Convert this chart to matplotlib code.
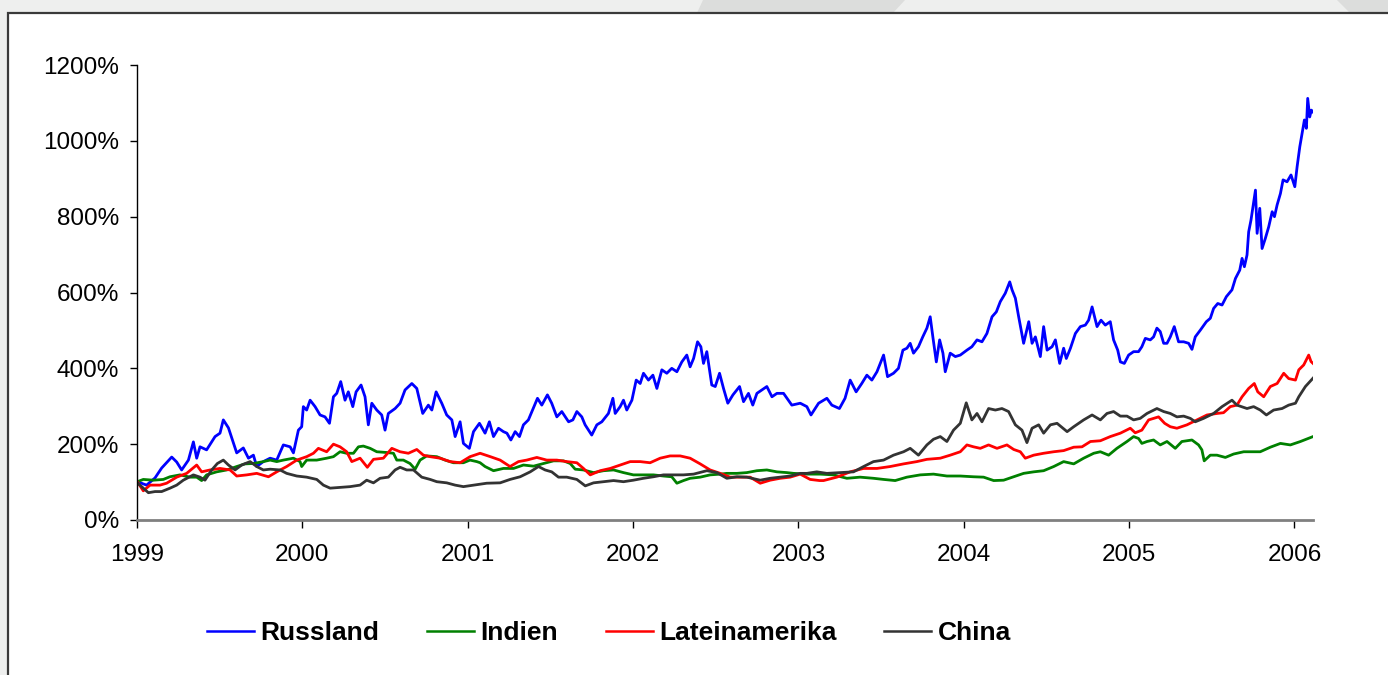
import numpy as np
import matplotlib.pyplot as plt
from matplotlib.patches import Rectangle, Polygon
from matplotlib.lines import Line2D

plt.rcParams['font.family'] = ['Liberation Sans', 'DejaVu Sans']

# years after 1999 / value in percent
rus_t = [0.002, 0.058, 0.109, 0.149, 0.210, 0.240, 0.270, 0.311, 0.341, 0.361, 0.381, 0.421, 0.472, 0.502, 0.522,
         0.553, 0.583, 0.603, 0.643, 0.674, 0.704, 0.724, 0.764, 0.805, 0.845, 0.885, 0.926, 0.946, 0.976, 0.996,
         1.006, 1.026, 1.047, 1.077, 1.107, 1.137, 1.164, 1.188, 1.208, 1.232, 1.258, 1.278, 1.305, 1.325, 1.355,
         1.379, 1.399, 1.420, 1.450, 1.480, 1.500, 1.520, 1.561, 1.591, 1.621, 1.662, 1.692, 1.728, 1.762, 1.783,
         1.809, 1.843, 1.873, 1.904, 1.924, 1.954, 1.974, 2.010, 2.035, 2.071, 2.105, 2.131, 2.156, 2.186, 2.216,
         2.237, 2.261, 2.287, 2.313, 2.337, 2.367, 2.388, 2.422, 2.448, 2.482, 2.508, 2.539, 2.569, 2.610, 2.636,
         2.660, 2.690, 2.710, 2.750, 2.781, 2.811, 2.851, 2.878, 2.892, 2.922, 2.942, 2.962, 2.993, 3.019, 3.043,
         3.063, 3.093, 3.120, 3.144, 3.174, 3.204, 3.234, 3.265, 3.295, 3.325, 3.345, 3.366, 3.390, 3.410, 3.426,
         3.446, 3.476, 3.497, 3.523, 3.547, 3.573, 3.604, 3.644, 3.668, 3.698, 3.724, 3.749, 3.779, 3.809, 3.840,
         3.870, 3.910, 3.960, 4.011, 4.051, 4.076, 4.122, 4.172, 4.202, 4.248, 4.282, 4.313, 4.349, 4.383, 4.414,
         4.444, 4.475, 4.495, 4.515, 4.539, 4.575, 4.605, 4.632, 4.656, 4.676, 4.696, 4.726, 4.752, 4.777, 4.797,
         4.813, 4.834, 4.854, 4.874, 4.888, 4.918, 4.949, 4.979, 5.019, 5.049, 5.080, 5.110, 5.140, 5.171, 5.197,
         5.221, 5.251, 5.278, 5.292, 5.312, 5.332, 5.362, 5.393, 5.413, 5.433, 5.463, 5.483, 5.504, 5.534, 5.554,
         5.580, 5.604, 5.620, 5.645, 5.675, 5.705, 5.735, 5.755, 5.776, 5.806, 5.830, 5.856, 5.886, 5.906, 5.931,
         5.947, 5.971, 5.997, 6.027, 6.057, 6.077, 6.098, 6.128, 6.148, 6.168, 6.188, 6.209, 6.229, 6.249, 6.273,
         6.299, 6.330, 6.360, 6.380, 6.400, 6.431, 6.467, 6.491, 6.511, 6.536, 6.562, 6.588, 6.622, 6.643, 6.669,
         6.683, 6.697, 6.713, 6.723, 6.737, 6.749, 6.764, 6.774, 6.790, 6.804, 6.824, 6.844, 6.865, 6.879, 6.895,
         6.915, 6.931, 6.955, 6.979, 7.002, 7.016, 7.032, 7.046, 7.060, 7.072, 7.080, 7.092, 7.102, 7.112]
russland = [101, 92, 111, 137, 166, 153, 132, 158, 206, 163, 193, 185, 220, 229, 264,
            243, 203, 177, 190, 163, 171, 141, 154, 163, 158, 198, 193, 177, 237, 246,
            299, 290, 316, 299, 277, 272, 255, 325, 334, 365, 316, 338, 299, 338, 356,
            325, 251, 308, 290, 277, 237, 281, 294, 308, 343, 360, 347, 281, 303, 290,
            338, 308, 277, 264, 220, 259, 202, 189, 233, 255, 229, 259, 220, 242, 233,
            229, 211, 233, 220, 251, 264, 286, 321, 303, 330, 308, 272, 286, 259, 264,
            286, 272, 251, 224, 251, 259, 281, 321, 281, 299, 316, 290, 316, 369, 360,
            387, 369, 382, 347, 396, 387, 400, 391, 417, 435, 404, 426, 470, 457, 413,
            444, 356, 352, 387, 347, 308, 330, 352, 312, 334, 303, 334, 343, 352, 325,
            334, 334, 303, 308, 299, 277, 308, 321, 303, 294, 321, 369, 338, 360, 382,
            369, 391, 413, 435, 378, 387, 400, 448, 453, 466, 440, 457, 483, 506, 536,
            483, 417, 475, 440, 391, 440, 431, 435, 448, 457, 475, 470, 492, 536, 549,
            576, 598, 628, 607, 585, 536, 466, 523, 466, 483, 431, 510, 448, 457, 475,
            413, 453, 426, 453, 492, 510, 514, 527, 562, 510, 527, 514, 523, 475, 448,
            417, 413, 435, 444, 444, 457, 479, 475, 483, 506, 497, 466, 466, 483, 510,
            470, 470, 466, 450, 483, 501, 523, 532, 558, 571, 567, 589, 607, 637, 659,
            690, 668, 699, 760, 791, 826, 870, 756, 822, 716, 743, 773, 813, 800, 831,
            861, 897, 892, 910, 879, 932, 984, 1020, 1055, 1033, 1112, 1063, 1081, 1076]

ind_t = [0.002, 0.038, 0.099, 0.159, 0.199, 0.260, 0.321, 0.361, 0.391, 0.421, 0.482, 0.543, 0.603, 0.653, 0.704,
         0.764, 0.805, 0.845, 0.885, 0.946, 0.986, 0.996, 1.026, 1.087, 1.147, 1.188, 1.228, 1.268, 1.309, 1.339,
         1.369, 1.410, 1.450, 1.510, 1.551, 1.571, 1.611, 1.651, 1.682, 1.712, 1.752, 1.813, 1.863, 1.914, 1.974,
         2.014, 2.055, 2.075, 2.105, 2.156, 2.216, 2.277, 2.337, 2.398, 2.458, 2.519, 2.579, 2.620, 2.650, 2.700,
         2.761, 2.821, 2.882, 2.942, 3.002, 3.063, 3.123, 3.184, 3.234, 3.265, 3.305, 3.345, 3.406, 3.466, 3.527,
         3.567, 3.628, 3.688, 3.749, 3.809, 3.870, 3.930, 3.971, 4.051, 4.132, 4.212, 4.293, 4.373, 4.454, 4.515,
         4.585, 4.656, 4.737, 4.817, 4.898, 4.979, 5.059, 5.120, 5.181, 5.241, 5.302, 5.362, 5.423, 5.483, 5.544,
         5.604, 5.665, 5.725, 5.786, 5.826, 5.876, 5.926, 5.987, 6.027, 6.057, 6.077, 6.108, 6.148, 6.188, 6.229,
         6.279, 6.319, 6.380, 6.420, 6.440, 6.454, 6.491, 6.531, 6.582, 6.632, 6.693, 6.753, 6.793, 6.854, 6.915,
         6.975, 7.036, 7.112]
indien = [101, 107, 105, 107, 114, 119, 113, 113, 104, 119, 127, 132, 141, 148, 149,
          154, 158, 154, 158, 163, 154, 141, 158, 158, 163, 167, 180, 176, 176, 193,
          195, 189, 180, 178, 176, 158, 158, 149, 134, 158, 169, 167, 158, 151, 151,
          158, 154, 151, 141, 130, 136, 136, 145, 142, 149, 156, 156, 149, 134, 132,
          125, 130, 132, 125, 119, 119, 119, 116, 114, 97, 104, 110, 113, 119, 121,
          123, 123, 125, 130, 132, 127, 125, 123, 121, 121, 119, 110, 113, 110, 107,
          104, 113, 119, 121, 116, 116, 114, 113, 104, 105, 114, 123, 127, 130, 141,
          154, 148, 163, 176, 180, 171, 189, 207, 220, 215, 202, 207, 211, 198, 207,
          189, 207, 211, 198, 185, 156, 171, 171, 165, 174, 180, 180, 180, 192, 202,
          198, 207, 220]

lat_t = [0.002, 0.038, 0.079, 0.139, 0.179, 0.240, 0.300, 0.361, 0.391, 0.442, 0.502, 0.563, 0.603, 0.664, 0.724,
         0.795, 0.845, 0.905, 0.966, 1.026, 1.067, 1.097, 1.147, 1.188, 1.228, 1.268, 1.299, 1.349, 1.393, 1.430,
         1.490, 1.541, 1.591, 1.641, 1.692, 1.732, 1.773, 1.833, 1.894, 1.954, 2.014, 2.075, 2.137, 2.196, 2.256,
         2.307, 2.357, 2.418, 2.478, 2.539, 2.599, 2.660, 2.700, 2.741, 2.801, 2.862, 2.922, 2.983, 3.043, 3.103,
         3.164, 3.224, 3.285, 3.345, 3.406, 3.466, 3.527, 3.587, 3.648, 3.708, 3.769, 3.829, 3.890, 3.950, 4.011,
         4.071, 4.128, 4.152, 4.232, 4.313, 4.394, 4.475, 4.555, 4.636, 4.716, 4.777, 4.858, 4.918, 4.979, 5.019,
         5.059, 5.100, 5.150, 5.201, 5.261, 5.302, 5.342, 5.372, 5.423, 5.483, 5.544, 5.604, 5.665, 5.715, 5.766,
         5.826, 5.886, 5.947, 6.007, 6.037, 6.077, 6.118, 6.178, 6.215, 6.249, 6.289, 6.350, 6.410, 6.471, 6.531,
         6.571, 6.612, 6.652, 6.683, 6.723, 6.757, 6.778, 6.814, 6.854, 6.895, 6.935, 6.965, 7.006, 7.026, 7.056,
         7.086, 7.100, 7.112]
lateinamerika = [101, 77, 92, 92, 97, 113, 123, 145, 127, 132, 136, 132, 116, 119, 123,
                 114, 127, 141, 158, 167, 176, 189, 180, 200, 193, 180, 154, 163, 139, 160,
                 163, 189, 180, 176, 186, 171, 167, 163, 154, 151, 167, 176, 167, 158, 141,
                 154, 158, 165, 158, 158, 154, 151, 136, 119, 130, 136, 145, 154, 154, 151,
                 163, 169, 169, 163, 148, 132, 123, 113, 113, 113, 97, 105, 110, 113, 121,
                 107, 104, 104, 113, 127, 136, 136, 141, 148, 154, 160, 163, 171, 180, 198,
                 193, 189, 198, 189, 198, 186, 180, 163, 171, 176, 180, 183, 192, 193, 207,
                 209, 220, 229, 242, 230, 237, 264, 272, 255, 246, 242, 251, 264, 277, 281,
                 283, 299, 303, 325, 347, 360, 338, 325, 352, 360, 387, 373, 369, 396, 409,
                 435, 418, 413]

chn_t = [0.002, 0.038, 0.069, 0.109, 0.149, 0.200, 0.240, 0.280, 0.341, 0.381, 0.411, 0.452, 0.486, 0.522, 0.553,
         0.593, 0.633, 0.684, 0.724, 0.764, 0.805, 0.865, 0.905, 0.966, 1.026, 1.087, 1.127, 1.168, 1.228, 1.289,
         1.349, 1.389, 1.430, 1.470, 1.520, 1.561, 1.591, 1.631, 1.672, 1.722, 1.773, 1.813, 1.873, 1.924, 1.974,
         2.035, 2.115, 2.196, 2.256, 2.317, 2.378, 2.428, 2.468, 2.508, 2.549, 2.599, 2.660, 2.711, 2.761, 2.821,
         2.882, 2.942, 3.002, 3.063, 3.123, 3.184, 3.244, 3.305, 3.366, 3.446, 3.507, 3.567, 3.628, 3.688, 3.769,
         3.829, 3.890, 3.950, 4.011, 4.051, 4.111, 4.172, 4.253, 4.333, 4.394, 4.454, 4.515, 4.575, 4.636, 4.676,
         4.726, 4.777, 4.817, 4.858, 4.898, 4.938, 4.979, 5.015, 5.049, 5.080, 5.110, 5.150, 5.191, 5.231, 5.271,
         5.312, 5.352, 5.382, 5.413, 5.453, 5.483, 5.524, 5.564, 5.625, 5.665, 5.725, 5.776, 5.826, 5.866, 5.906,
         5.947, 5.987, 6.027, 6.067, 6.108, 6.168, 6.209, 6.249, 6.289, 6.330, 6.370, 6.400, 6.450, 6.511, 6.562,
         6.622, 6.652, 6.713, 6.753, 6.793, 6.830, 6.874, 6.925, 6.965, 7.006, 7.026, 7.066, 7.112]
china = [98, 84, 72, 75, 75, 84, 92, 105, 119, 113, 105, 132, 149, 158, 145,
         132, 145, 154, 141, 132, 134, 132, 123, 116, 113, 107, 92, 84, 86, 88,
         92, 105, 98, 110, 113, 132, 139, 132, 132, 113, 107, 101, 98, 92, 88,
         92, 97, 98, 107, 114, 127, 141, 132, 127, 113, 113, 107, 90, 98, 101,
         104, 101, 105, 110, 114, 119, 119, 119, 121, 130, 125, 110, 114, 113, 105,
         110, 113, 116, 123, 123, 127, 123, 125, 127, 141, 154, 158, 171, 180, 189,
         171, 198, 213, 220, 207, 237, 255, 309, 264, 281, 259, 294, 290, 294, 286,
         251, 237, 204, 242, 251, 229, 251, 255, 233, 246, 264, 277, 264, 281, 286,
         274, 274, 264, 268, 281, 294, 286, 281, 272, 274, 268, 259, 268, 281, 299,
         316, 303, 294, 299, 290, 277, 290, 294, 303, 308, 325, 352, 374]

series_names = ['Russland', 'Indien', 'Lateinamerika', 'China']
series_colors = ['#0000ff', '#008000', '#ff0000', '#333333']
year_ticks = [1999, 2000, 2001, 2002, 2003, 2004, 2005, 2006]
pct_ticks = [0, 200, 400, 600, 800, 1000, 1200]

W, H = 1388, 675
fig = plt.figure(figsize=(W / 100, H / 100), dpi=100)
fig.patch.set_facecolor('#eeefee')

# darker slanted shapes in the top strip
fig.patches.append(Polygon([(703 / W, 1), (905 / W, 1), (893 / W, 1 - 13 / H), (697 / W, 1 - 13 / H)],
                           closed=True, transform=fig.transFigure, facecolor='#dcdddc', edgecolor='none', zorder=-3))
fig.patches.append(Polygon([(1337 / W, 1), (1.1, 1), (1.1, 1 - 13 / H), (1350 / W, 1 - 13 / H)],
                           closed=True, transform=fig.transFigure, facecolor='#dcdddc', edgecolor='none', zorder=-3))
# white frame
fig.patches.append(Rectangle((7.5 / W, -0.1), 1.2, 1.1 - 12.5 / H, transform=fig.transFigure,
                             facecolor='white', edgecolor='#3a3a3a', linewidth=1.6, zorder=-2))

ax = fig.add_axes([137 / W, 1 - 520 / H, (1313 - 137) / W, (520 - 65) / H])
ax.set_facecolor('none')

data = [(rus_t, russland), (ind_t, indien), (lat_t, lateinamerika), (chn_t, china)]
for (t, v), name, col in zip(data, series_names, series_colors):
    ax.plot(1999 + np.array(t), v, color=col, linewidth=2.0, label=name)

ax.set_xlim(1999, 2006.112)
ax.set_ylim(0, 1200)
ax.set_xticks(year_ticks)
ax.set_xticklabels([str(y) for y in year_ticks])
ax.set_yticks(pct_ticks)
ax.set_yticklabels([f'{p}%' for p in pct_ticks])

for s in ['top', 'right']:
    ax.spines[s].set_visible(False)
ax.spines['left'].set_color('black')
ax.spines['left'].set_linewidth(1)
ax.spines['bottom'].set_color('#808080')
ax.spines['bottom'].set_linewidth(2)
ax.tick_params(axis='y', direction='out', length=5, width=1, color='black', labelsize=17.5, pad=8)
ax.tick_params(axis='x', direction='out', length=6, width=1, color='black', labelsize=17.5, pad=11)

handles = [Line2D([], [], color=c, linewidth=1.8) for c in series_colors]
fig.legend(handles, series_names, loc='center left', bbox_to_anchor=(207 / W, 1 - 633 / H),
           ncol=4, frameon=False, prop={'weight': 'bold', 'size': 19},
           handlelength=1.78, handletextpad=0.25, columnspacing=1.8, borderpad=0, borderaxespad=0)

fig.savefig('out.png', dpi=100)
